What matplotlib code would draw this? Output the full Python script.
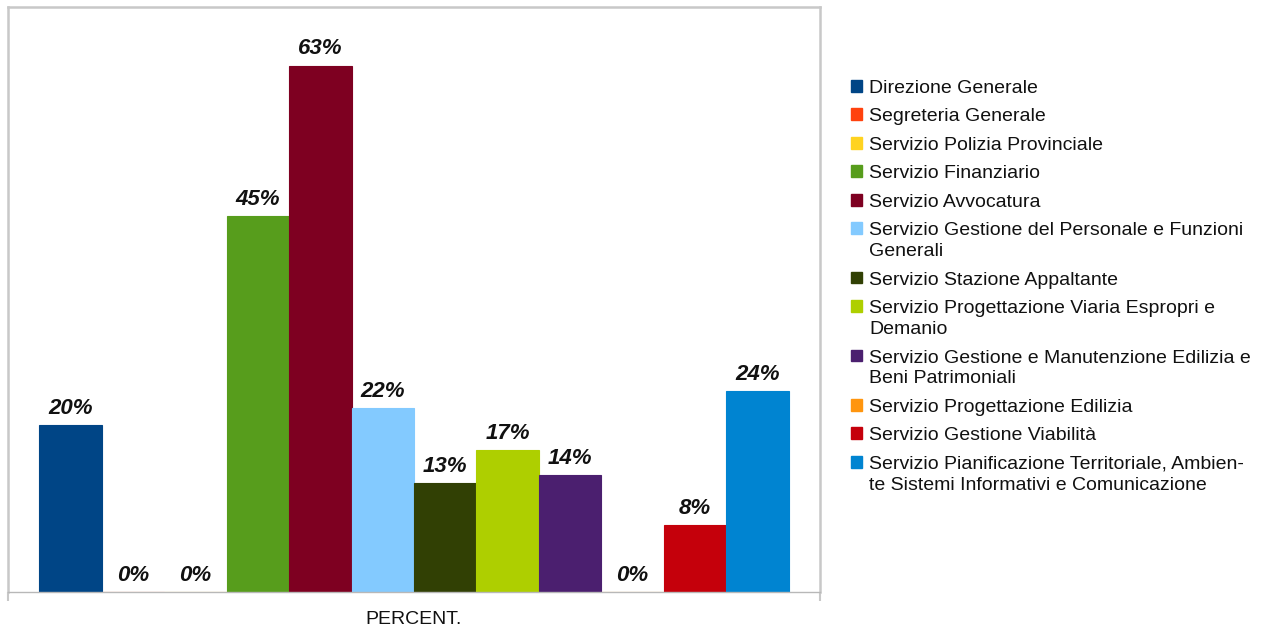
# Grafico a barre percentuali per servizio
import matplotlib.pyplot as plt
from matplotlib.patches import Patch
import numpy as np

plt.rcParams['font.family'] = ['Liberation Sans', 'DejaVu Sans']

# servizi (etichette della legenda) e valori percentuali
servizi = [
    'Direzione Generale',
    'Segreteria Generale',
    'Servizio Polizia Provinciale',
    'Servizio Finanziario',
    'Servizio Avvocatura',
    'Servizio Gestione del Personale e Funzioni\nGenerali',
    'Servizio Stazione Appaltante',
    'Servizio Progettazione Viaria Espropri e\nDemanio',
    'Servizio Gestione e Manutenzione Edilizia e\nBeni Patrimoniali',
    'Servizio Progettazione Edilizia',
    'Servizio Gestione Viabilità',
    'Servizio Pianificazione Territoriale, Ambien-\nte Sistemi Informativi e Comunicazione',
]
percentuali = [20, 0, 0, 45, 63, 22, 13, 17, 14, 0, 8, 24]
colori = ['#004586', '#ff420e', '#ffd320', '#579d1c', '#7e0021', '#83caff',
          '#314004', '#aecf00', '#4b1f6f', '#ff950e', '#c5000b', '#0084d1']
categoria = 'PERCENT.'

fig = plt.figure(figsize=(12.63, 6.29), dpi=100)
ax = fig.add_axes([8 / 1263, 37 / 629, 812 / 1263, 585 / 629])

x = np.arange(len(percentuali))
barre = ax.bar(x, percentuali, width=1.0, color=colori, edgecolor=colori, linewidth=0.8)

for b, v in zip(barre, percentuali):
    ax.annotate(f'{v}%', (b.get_x() + b.get_width() / 2, v), xytext=(0, 4.5),
                textcoords='offset points', ha='center', va='bottom',
                fontsize=16, fontweight='bold', fontstyle='italic', color='#111111')

ax.set_xlim(-1, 12)
ax.set_ylim(0, 70)
ax.set_yticks([])
ax.set_xticks([-1, 12])
ax.set_xticklabels(['', ''])
ax.tick_params(axis='x', length=6.5, width=1.5, color='#c8c8c8', direction='out')
ax.set_xlabel(categoria, fontsize=14, labelpad=4, color='#111111')

for lato in ['top', 'left', 'right']:
    ax.spines[lato].set_color('#c8c8c8')
    ax.spines[lato].set_linewidth(1.8)
ax.spines['bottom'].set_color('#b8b8b8')
ax.spines['bottom'].set_linewidth(1.0)

# legenda a destra
maniglie = [Patch(facecolor=c, edgecolor=c) for c in colori]
leg = fig.legend(maniglie, servizi, loc='upper left',
                 bbox_to_anchor=(851 / 1263, 1 - 80 / 629),
                 frameon=False, fontsize=14, handlelength=0.55, handleheight=0.55,
                 handletextpad=0.4, labelspacing=0.59, borderpad=0, borderaxespad=0)
for colonna in leg._legend_handle_box.get_children():
    for riga in colonna.get_children():
        riga.align = 'top'
for t in leg.get_texts():
    t.set_color('#111111')
    t.set_linespacing(1.3)

plt.savefig('out.png', dpi=100)
